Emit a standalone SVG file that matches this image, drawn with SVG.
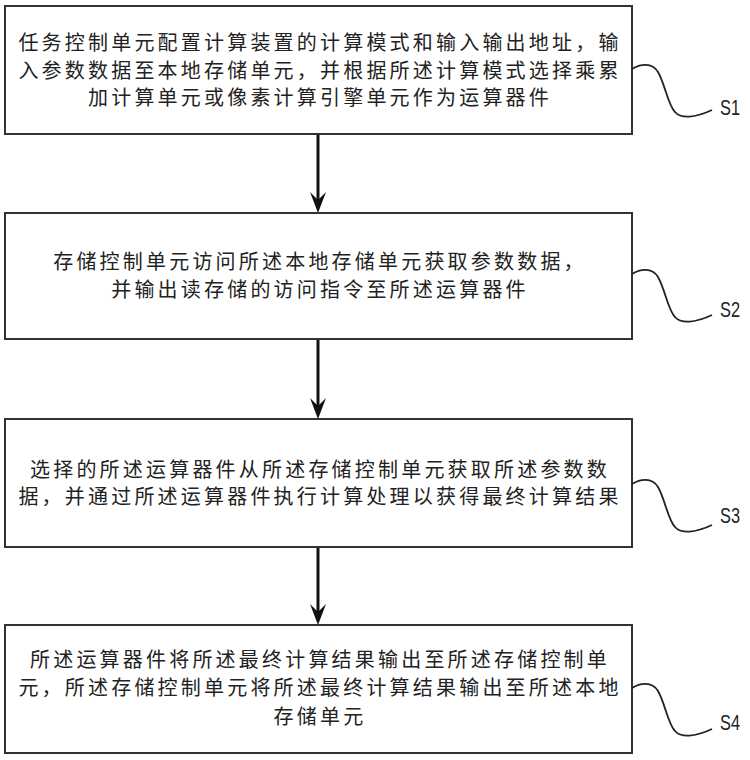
<svg xmlns="http://www.w3.org/2000/svg" width="750" height="760" viewBox="0 0 750 760">
<style>
.box{fill:#fff;stroke:#333;stroke-width:2}
.t{font-family:"Noto Sans CJK SC","Noto Sans CJK JP",sans-serif;font-size:20px;letter-spacing:3.2px;fill:#222;text-anchor:middle}
.lbl{font-family:"Liberation Sans",Arial,sans-serif;font-size:22px;fill:#222}
.sq{fill:none;stroke:#222;stroke-width:1.8}
.conn{stroke:#111;stroke-width:3;fill:none}
</style>
<defs>
<path id="squig" d="M0,0 C8,-5 20,-7 26,3 C33,15 36,36 43,43 C49,50 63,49 80,41"/>
</defs>
<rect width="750" height="760" fill="#fff"/>
<g id="connectors">
<line class="conn" x1="318" y1="134" x2="318" y2="205"/>
<polygon points="318,213 310,192 318,200 326,192" fill="#111"/>
<line class="conn" x1="318" y1="339" x2="318" y2="411"/>
<polygon points="318,419 310,398 318,406 326,398" fill="#111"/>
<line class="conn" x1="318" y1="547" x2="318" y2="617"/>
<polygon points="318,625 310,604 318,612 326,604" fill="#111"/>
</g>
<g id="S1">
<rect class="box" x="5" y="6" width="627" height="128"/>
<text class="t" x="320" y="50">任务控制单元配置计算装置的计算模式和输入输出地址，输</text>
<text class="t" x="320" y="78">入参数数据至本地存储单元，并根据所述计算模式选择乘累</text>
<text class="t" x="320" y="105">加计算单元或像素计算引擎单元作为运算器件</text>
<use href="#squig" class="sq" transform="translate(632,69)"/>
<text class="lbl" x="720" y="115" textLength="20" lengthAdjust="spacingAndGlyphs">S1</text>
</g>
<g id="S2">
<rect class="box" x="5" y="213" width="627" height="126"/>
<text class="t" x="320" y="269">存储控制单元访问所述本地存储单元获取参数数据，</text>
<text class="t" x="320" y="297">并输出读存储的访问指令至所述运算器件</text>
<use href="#squig" class="sq" transform="translate(632,274)"/>
<text class="lbl" x="720" y="317" textLength="20" lengthAdjust="spacingAndGlyphs">S2</text>
</g>
<g id="S3">
<rect class="box" x="5" y="419" width="627" height="128"/>
<text class="t" x="320" y="477">选择的所述运算器件从所述存储控制单元获取所述参数数</text>
<text class="t" x="320" y="504">据，并通过所述运算器件执行计算处理以获得最终计算结果</text>
<use href="#squig" class="sq" transform="translate(632,484)"/>
<text class="lbl" x="720" y="523" textLength="20" lengthAdjust="spacingAndGlyphs">S3</text>
</g>
<g id="S4">
<rect class="box" x="5" y="625" width="627" height="128"/>
<text class="t" x="320" y="667">所述运算器件将所述最终计算结果输出至所述存储控制单</text>
<text class="t" x="320" y="695">元，所述存储控制单元将所述最终计算结果输出至所述本地</text>
<text class="t" x="320" y="724">存储单元</text>
<use href="#squig" class="sq" transform="translate(632,688)"/>
<text class="lbl" x="720" y="730" textLength="20" lengthAdjust="spacingAndGlyphs">S4</text>
</g>
</svg>
